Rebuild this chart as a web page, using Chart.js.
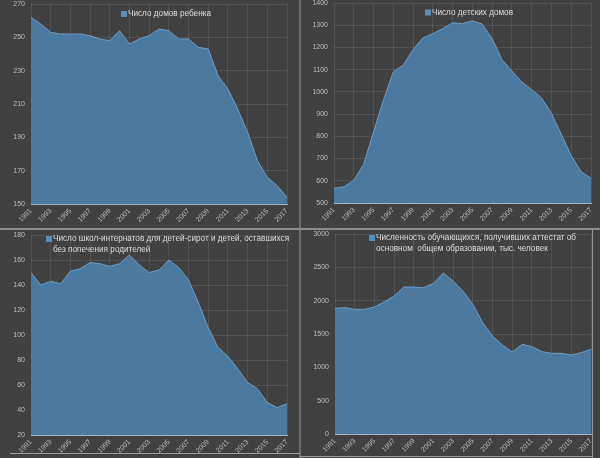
<!DOCTYPE html>
<html>
<head>
<meta charset="utf-8">
<script src="https://cdn.jsdelivr.net/npm/chart.js@4"></script>
<style>
  html, body { margin: 0; padding: 0; background: #414141; }
  #wrap { position: relative; width: 600px; height: 458px; overflow: hidden; }
  .panel { position: absolute; width: 300px; height: 229px; }
  .panel canvas { width: 300px !important; height: 229px !important; }
  .sep { position: absolute; background: #8c8c8c; }
</style>
</head>
<body>
<div id="wrap">
  <div class="panel" style="left:0;top:0"><canvas id="c1"></canvas></div>
  <div class="panel" style="left:300px;top:0"><canvas id="c2"></canvas></div>
  <div class="panel" style="left:0;top:229px"><canvas id="c3"></canvas></div>
  <div class="panel" style="left:300px;top:229px"><canvas id="c4"></canvas></div>
  <div class="sep" style="left:299px;top:0;width:2px;height:458px;background:#6e6e6e"></div>
  <div class="sep" style="left:0;top:228px;width:600px;height:2px"></div>
  <div class="sep" style="left:10px;top:453px;width:290px;height:1px;background:#9a9a9a"></div>
  <div class="sep" style="left:592px;top:229px;width:1px;height:229px;background:#9a9a9a"></div>
  <div class="sep" style="left:300px;top:456px;width:293px;height:1px;background:#9a9a9a"></div>
</div>
<script>
const years = ['1991','1992','1993','1994','1995','1996','1997','1998','1999','2000',
               '2001','2002','2003','2004','2005','2006','2007','2008','2009','2010',
               '2011','2012','2013','2014','2015','2016','2017'];

const babyHomes = [262, 258, 253, 252, 252, 252, 251, 249, 248, 254,
                   246, 249, 251, 255, 254, 249, 249, 244, 243, 227,
                   219, 207, 193, 176, 166, 161, 154];

const childrenHomes = [566, 573, 602, 674, 820, 963, 1090, 1121, 1190, 1243,
                       1262, 1284, 1311, 1307, 1320, 1305, 1240, 1145, 1094, 1045,
                       1010, 973, 904, 808, 713, 641, 611];

const boardingSchools = [150, 140, 143, 141, 151, 153, 158, 157, 155, 157,
                         164, 156, 150, 152, 160, 154, 144, 126, 106, 90,
                         83, 73, 62, 57, 46, 42, 45];

const graduates = [1885, 1895, 1870, 1870, 1905, 1980, 2070, 2205, 2205, 2195,
                   2260, 2415, 2295, 2145, 1945, 1670, 1470, 1335, 1230, 1345,
                   1310, 1235, 1210, 1210, 1185, 1220, 1270];

const legend1 = ['Число домов ребенка'];
const legend2 = ['Число детских домов'];
const legend3 = ['Число школ-интернатов для детей-сирот и детей, оставшихся', 'без попечения родителей'];
const legend4 = ['Численность обучающихся, получивших аттестат об', 'основном  общем образовании, тыс. человек'];

const FILL = 'rgba(76, 124, 165, 0.94)';
const LINE = '#6f9cc4';
const GRID = 'rgba(255,255,255,0.09)';
const TICK = '#bdbdbd';
const FONT = '"Liberation Sans", Arial, sans-serif';

const boxLegend = {
  id: 'boxLegend',
  afterDraw(chart, args, opts) {
    const ctx = chart.ctx;
    ctx.save();
    ctx.fillStyle = '#5a8cb8';
    ctx.fillRect(opts.x - 7, opts.y - 3, 6, 6);
    ctx.font = '8.2px ' + FONT;
    ctx.fillStyle = '#dcdcdc';
    ctx.textBaseline = 'middle';
    opts.lines.forEach(function(t, i) {
      ctx.fillText(t, opts.x, opts.y + i * 11);
    });
    ctx.restore();
  }
};

function makeChart(id, values, lines, lx, ly, yMin, yMax, yStep, area) {
  return new Chart(document.getElementById(id), {
    type: 'line',
    data: {
      labels: years,
      datasets: [{
        data: values,
        borderColor: LINE,
        borderWidth: 1,
        backgroundColor: FILL,
        fill: 'start',
        pointRadius: 0,
        tension: 0
      }]
    },
    plugins: [boxLegend],
    options: {
      responsive: false,
      animation: false,
      devicePixelRatio: 1,
      layout: { padding: { left: 0, right: 300 - area.right, top: area.top, bottom: 0 } },
      plugins: {
        legend: { display: false },
        tooltip: { enabled: false },
        boxLegend: { lines: lines, x: lx, y: ly }
      },
      scales: {
        x: {
          offset: false,
          grid: {
            color: function(c) { return c.index % 2 === 0 ? GRID : 'transparent'; },
            drawTicks: false
          },
          border: { color: '#9fb6cc', width: 1 },
          ticks: {
            autoSkip: false,
            minRotation: 45,
            maxRotation: 45,
            padding: 3,
            color: TICK,
            font: { family: FONT, size: 7 },
            callback: function(v, i) { return i % 2 === 0 ? years[i] : ''; }
          },
          afterFit: function(s) { s.height = 229 - area.bottom; }
        },
        y: {
          min: yMin,
          max: yMax,
          grid: { color: GRID, drawTicks: false },
          border: { display: false },
          ticks: {
            stepSize: yStep,
            padding: 6,
            color: TICK,
            font: { family: FONT, size: 7 },
            callback: function(v) { return String(v); }
          },
          afterFit: function(s) {
            s.width = area.left;
            s.paddingTop = 0;
            s.paddingBottom = 0;
          }
        }
      }
    }
  });
}

['c1', 'c2', 'c3', 'c4'].forEach(function(id) {
  const cv = document.getElementById(id);
  cv.width = 300; cv.height = 229;
});

makeChart('c1', babyHomes, legend1, 128, 14, 150, 270, 20, { left: 31, right: 287, top: 4, bottom: 204 });
makeChart('c2', childrenHomes, legend2, 132, 12.5, 500, 1400, 100, { left: 34, right: 291, top: 3, bottom: 203 });
makeChart('c3', boardingSchools, legend3, 53, 10, 20, 180, 20, { left: 31, right: 287, top: 6, bottom: 206 });
makeChart('c4', graduates, legend4, 76, 9, 0, 3000, 500, { left: 35, right: 291, top: 5, bottom: 205 });
</script>
</body>
</html>
